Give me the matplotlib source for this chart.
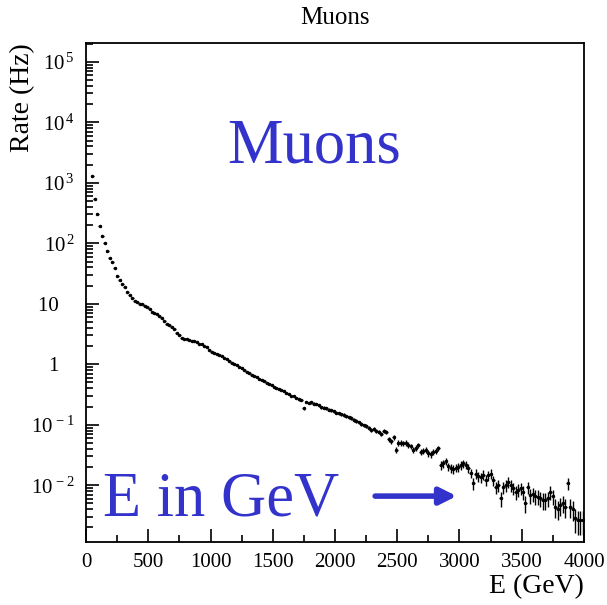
import numpy as np
import matplotlib
matplotlib.use("Agg")
import matplotlib.pyplot as plt
from matplotlib.ticker import FixedLocator, FixedFormatter, MultipleLocator, NullFormatter

plt.rcParams["font.family"] = ["Liberation Serif", "DejaVu Serif"]
plt.rcParams["mathtext.fontset"] = "custom"
plt.rcParams["mathtext.rm"] = "Liberation Serif"
plt.rcParams["mathtext.it"] = "Liberation Serif:italic"

# muon energy spectrum, 20 GeV bins (bin centres in GeV)
energy = np.arange(50, 4000, 20)

# rate per bin in Hz
rate = [
    1288, 550, 302, 191, 132, 100, 75.9, 56.2, 49.0, 39.8,
    28.8, 25.1, 20.9, 19.1, 15.5, 14.1, 12.6, 11.2, 10.5, 10.0,
    9.77, 9.33, 8.71, 8.13, 7.41, 7.08, 6.76, 6.31, 5.89, 5.13,
    4.68, 4.47, 4.07, 3.80, 3.31, 3.09, 2.75, 2.63, 2.57, 2.51,
    2.45, 2.40, 2.29, 2.19, 2.14, 2.00, 1.91, 1.74, 1.58, 1.55,
    1.48, 1.41, 1.35, 1.29, 1.23, 1.15, 1.05, 1.00, 0.977, 0.912,
    0.871, 0.794, 0.741, 0.708, 0.676, 0.631, 0.617, 0.562, 0.550, 0.525,
    0.490, 0.468, 0.447, 0.427, 0.407, 0.389, 0.372, 0.355, 0.339, 0.324,
    0.302, 0.295, 0.275, 0.263, 0.257, 0.186, 0.240, 0.229, 0.234, 0.224,
    0.219, 0.209, 0.195, 0.191, 0.186, 0.178, 0.174, 0.166, 0.158, 0.155,
    0.148, 0.145, 0.138, 0.132, 0.129, 0.120, 0.115, 0.110, 0.102, 0.0977,
    0.0955, 0.0891, 0.0832, 0.0851, 0.0794, 0.0759, 0.0708, 0.0794, 0.0759, 0.0575,
    0.0537, 0.0617, 0.0380, 0.0501, 0.0501, 0.0490, 0.0501, 0.0468, 0.0437, 0.0380,
    0.0417, 0.0457, 0.0355, 0.0372, 0.0389, 0.0339, 0.0324, 0.0355, 0.0372, 0.0407,
    0.0214, 0.0229, 0.0251, 0.0204, 0.0191, 0.0182, 0.0195, 0.0200, 0.0214, 0.0229,
    0.0219, 0.0191, 0.0158, 0.0107, 0.0155, 0.0141, 0.0135, 0.0148, 0.0123, 0.0145,
    0.0155, 0.0120, 0.00933, 0.0100, 0.00603, 0.00933, 0.0100, 0.0115, 0.0100, 0.00891,
    0.00776, 0.00832, 0.00891, 0.00759, 0.00501, 0.00933, 0.00676, 0.00708, 0.00661, 0.00646,
    0.00603, 0.00562, 0.00562, 0.00603, 0.00776, 0.00661, 0.00437, 0.00407, 0.00468, 0.00501,
    0.00437, 0.0107, 0.00437, 0.00398, 0.00282, 0.00263, 0.00263, 0.00263,
]
rate = np.array(rate)

# statistical error: rate per count ~ 5e-4 Hz
rate_per_count = 5e-4
rate_err = np.sqrt(rate * rate_per_count)
lower_err = np.minimum(rate_err, rate * 0.999)

y_ticks = [1e-2, 1e-1, 1, 10, 1e2, 1e3, 1e4, 1e5]
# trailing spaces keep "1" and "10" lined up with the bases of the powers
y_tick_labels = [r"$10^{\,-2}$", r"$10^{\,-1}$", "1   ", "10   ",
                 r"$10^{\,2}$", r"$10^{\,3}$", r"$10^{\,4}$", r"$10^{\,5}$"]
y_minor = [m * 10.0 ** k for k in range(-3, 6) for m in range(2, 10)]

fig = plt.figure(figsize=(6.07, 6.05), dpi=100)
ax = fig.add_axes([0.1417, 0.1041, 0.8204, 0.8248])

ax.errorbar(energy, rate, yerr=[lower_err, rate_err], xerr=12,
            fmt=".", ms=3, color="black", ecolor="black", elinewidth=1.0,
            capsize=0)

ax.set_yscale("log")
ax.set_xlim(0, 4000)
ax.set_ylim(1.15e-3, 2.05e5)

ax.tick_params(axis="both", which="both", direction="in", top=False, right=False)
ax.tick_params(axis="both", which="major", length=9.5, width=1.2)
ax.tick_params(axis="x", pad=8, labelsize=15)
ax.tick_params(axis="y", pad=8, labelsize=15)
for s in ax.spines.values():
    s.set_linewidth(1.3)

ax.xaxis.set_major_locator(MultipleLocator(500))
ax.xaxis.set_minor_locator(MultipleLocator(250))
ax.yaxis.set_major_locator(FixedLocator(y_ticks))
ax.yaxis.set_major_formatter(FixedFormatter(y_tick_labels))
ax.yaxis.set_minor_locator(FixedLocator(y_minor))
ax.yaxis.set_minor_formatter(NullFormatter())
ax.xaxis.set_tick_params(which="minor", bottom=True, length=5, width=1.2)
ax.yaxis.set_tick_params(which="minor", left=True, length=5, width=1.2)

ax.set_title("Muons", fontsize=18, pad=14)
ax.set_ylabel("Rate (Hz)", fontsize=20, loc="top")
ax.yaxis.set_label_coords(-0.102, 1.0)
ax.set_xlabel("E (GeV)", fontsize=20, loc="right")
ax.xaxis.set_label_coords(1.0, -0.064)

blue = "#3333cc"
ax.text(0.458, 0.76, "Muons", color=blue, fontsize=45, ha="center",
        va="baseline", transform=ax.transAxes)
ax.text(0.034, 0.054, "E in GeV", color=blue, fontsize=45, ha="left",
        va="baseline", transform=ax.transAxes)
ax.annotate("", xy=(3000, 10 ** -2.18), xytext=(2300, 10 ** -2.18),
            arrowprops=dict(arrowstyle="-|>,head_length=1.0,head_width=0.5",
                            color=blue, lw=4))

fig.savefig("out.png", dpi=100)
